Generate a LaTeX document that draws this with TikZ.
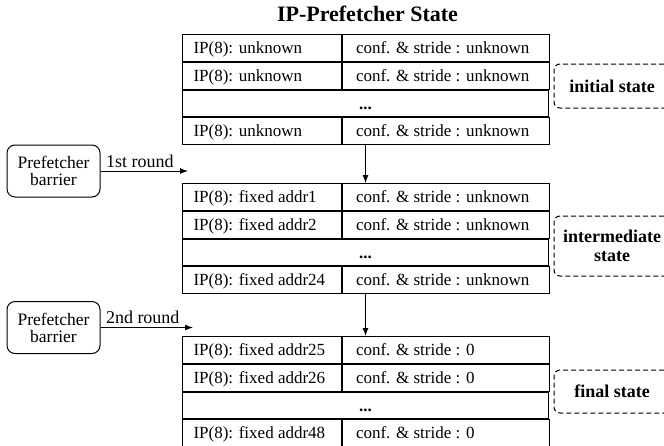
\documentclass[tikz,border=0pt]{standalone}
\usepackage{fontspec}
\setmainfont{Liberation Serif}
\usetikzlibrary{arrows.meta}

\tikzstyle{cell}=[draw=black,line width=1pt,minimum height=26.8pt,inner ysep=0pt,text height=14pt,text depth=3pt,font=\fontsize{17}{20}\selectfont]
\tikzstyle{ipcell}=[cell,anchor=north west,inner xsep=11pt,execute at begin node={\hbox to 137pt\bgroup},execute at end node={\hfil\egroup}]
\tikzstyle{confcell}=[cell,anchor=west,inner xsep=13.5pt,execute at begin node={\hbox to 180pt\bgroup},execute at end node={\hfil\egroup}]
\tikzstyle{dotcell}=[cell,anchor=north west,minimum width=366pt,font=\bfseries\fontsize{17}{20}\selectfont]
\tikzstyle{barrier}=[draw=black,line width=1pt,rounded corners=8pt,minimum width=93pt,minimum height=52pt,inner sep=0pt,align=center,font=\fontsize{17.5}{17}\selectfont]
\tikzstyle{state}=[draw=black,line width=1pt,dash pattern=on 5pt off 3pt,rounded corners=6pt,minimum width=116pt,inner sep=0pt,align=center,font=\bfseries\fontsize{18}{19}\selectfont]
\tikzstyle{arr}=[line width=1pt,-{Latex[length=8pt,width=6pt]}]
\tikzstyle{roundlbl}=[pos=0,anchor=south west,inner xsep=5pt,inner ysep=3pt,font=\fontsize{18}{20}\selectfont]

\begin{document}
\begin{tikzpicture}[x=1pt,y=-1pt]

   \useasboundingbox (0,0) rectangle (664,445);

   \node[font=\bfseries\fontsize{22}{24}\selectfont] (title) at (367.5,14) {IP-Prefetcher State};

   % Initial state table

   \node[ipcell] (i1l) at (182,34) {IP(8): unknown};
   \node[confcell] (i1r) at (i1l.east) {conf. \& stride : unknown};
   \node[ipcell] (i2l) at (i1l.south west) {IP(8): unknown};
   \node[confcell] (i2r) at (i2l.east) {conf. \& stride : unknown};
   \node[dotcell] (idots) at (i2l.south west) {...};
   \node[ipcell] (i4l) at (idots.south west) {IP(8): unknown};
   \node[confcell] (i4r) at (i4l.east) {conf. \& stride : unknown};

   \node[state,minimum height=44pt] (istate) at (612,86) {initial state};

   % Intermediate state table

   \node[ipcell] (m1l) at (182,183) {IP(8): fixed addr1};
   \node[confcell] (m1r) at (m1l.east) {conf. \& stride : unknown};
   \node[ipcell] (m2l) at (m1l.south west) {IP(8): fixed addr2};
   \node[confcell] (m2r) at (m2l.east) {conf. \& stride : unknown};
   \node[dotcell] (mdots) at (m2l.south west) {...};
   \node[ipcell] (m4l) at (mdots.south west) {IP(8): fixed addr24};
   \node[confcell] (m4r) at (m4l.east) {conf. \& stride : unknown};

   \node[state,minimum height=60pt] (mstate) at (612,246) {intermediate\\state};

   % Final state table

   \node[ipcell] (f1l) at (182,336) {IP(8): fixed addr25};
   \node[confcell] (f1r) at (f1l.east) {conf. \& stride : 0};
   \node[ipcell] (f2l) at (f1l.south west) {IP(8): fixed addr26};
   \node[confcell] (f2r) at (f2l.east) {conf. \& stride : 0};
   \node[dotcell] (fdots) at (f2l.south west) {...};
   \node[ipcell] (f4l) at (fdots.south west) {IP(8): fixed addr48};
   \node[confcell] (f4r) at (f4l.east) {conf. \& stride : 0};

   \node[state,minimum height=43pt] (fstate) at (612,391.5) {final state};

   % Barriers

   \node[barrier] (bar1) at (53.5,171) {Prefetcher\\barrier};
   \node[barrier] (bar2) at (53.5,327.5) {Prefetcher\\barrier};
   \coordinate (r1) at (188,171);
   \coordinate (r2) at (193,327.5);

   \draw[arr] (bar1) -- node[roundlbl] {1st round} (r1);
   \draw[arr] (bar2) -- node[roundlbl] {2nd round} (r2);

   \draw[arr] (idots |- i4l.south) -- (mdots |- m1l.north);
   \draw[arr] (mdots |- m4l.south) -- (fdots |- f1l.north);

\end{tikzpicture}
\end{document}
